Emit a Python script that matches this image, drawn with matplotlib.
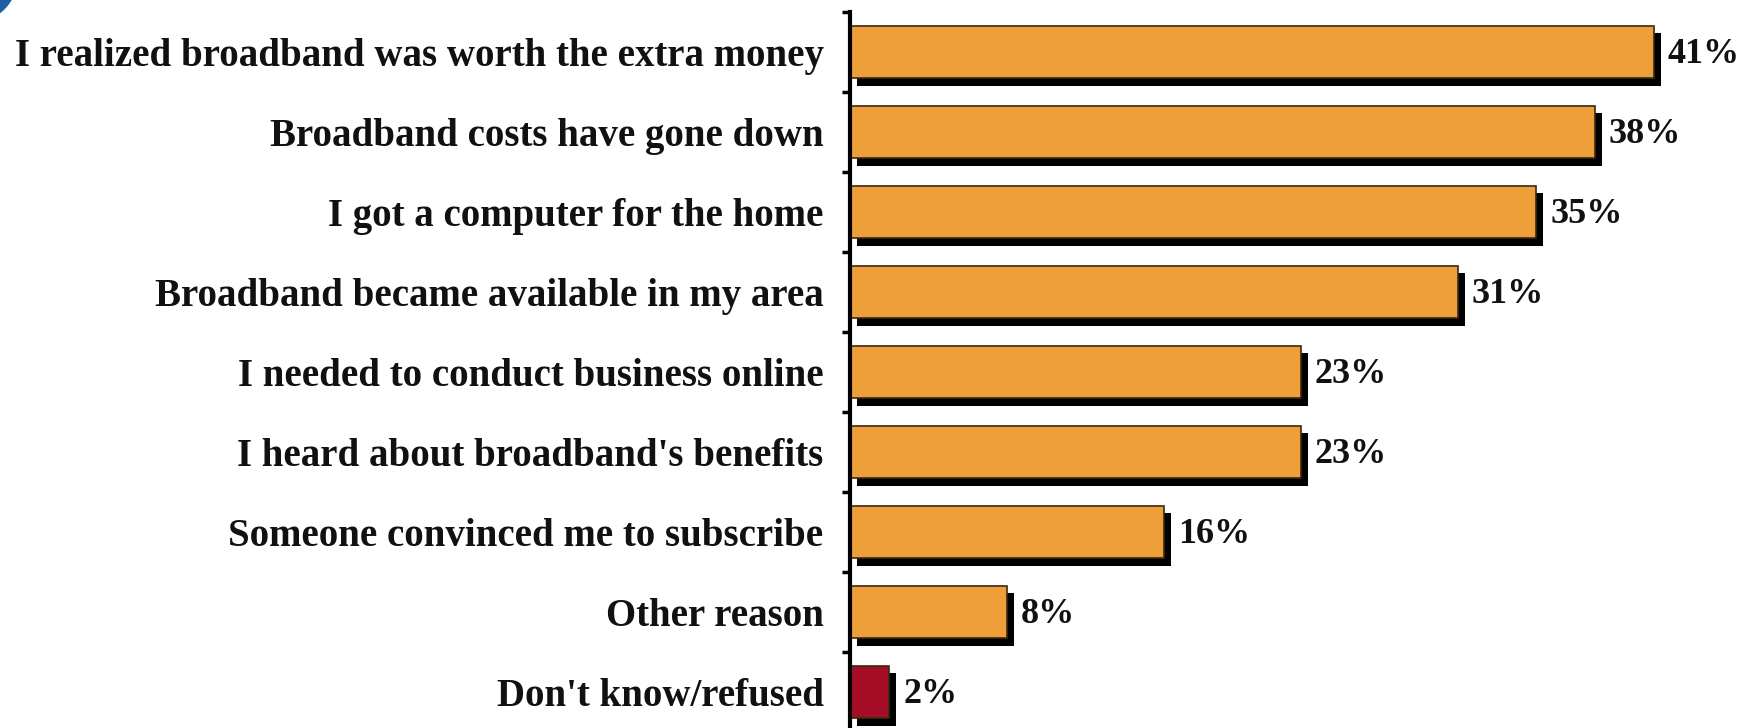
import matplotlib.pyplot as plt
from matplotlib.patches import Circle
import numpy as np

reasons = ["I realized broadband was worth the extra money",
           "Broadband costs have gone down",
           "I got a computer for the home",
           "Broadband became available in my area",
           "I needed to conduct business online",
           "I heard about broadband's benefits",
           "Someone convinced me to subscribe",
           "Other reason",
           "Don't know/refused"]
percent = [41, 38, 35, 31, 23, 23, 16, 8, 2]
colors = ["#EE9F3A"] * 8 + ["#A50D26"]

plt.rcParams['font.family'] = ['Liberation Serif', 'DejaVu Serif']

fig = plt.figure(figsize=(17.49, 7.28), dpi=100)
W, H = 1749, 728
ax = fig.add_axes([850 / W, -4 / H, (W - 850) / W, 720 / H])

y = np.arange(len(reasons))
# drop shadows first, then the bars on top
ax.barh(y + 0.09, percent, height=0.66, left=0.36, color="black", zorder=1)
ax.barh(y, percent, height=0.66, color=colors, edgecolor="#3a2a10",
        linewidth=1.2, zorder=2)

for yi, v in zip(y, percent):
    ax.text(v + 0.72, yi + 0.03, f"{v}%", ha="left", va="center",
            fontsize=26, fontweight="bold", color="#111111")

ax.set_xlim(0, (W - 850) / 19.6)
ax.set_ylim(len(reasons) - 0.5, -0.5)
ax.set_yticks(y)
ax.set_yticklabels(reasons, fontsize=28, fontweight="bold", color="#111111")
ax.tick_params(axis="y", which="major", length=0, pad=19)
ax.set_yticks(np.arange(len(reasons)) - 0.5, minor=True)
ax.tick_params(axis="y", which="minor", length=6, width=2.5, direction="out")
ax.set_xticks([])
for s in ["top", "right", "bottom"]:
    ax.spines[s].set_visible(False)
ax.spines["left"].set_linewidth(3)
ax.spines["left"].set_bounds(-0.5, len(reasons) - 0.5)

# corner ornament
fig.patches.append(Circle((-30, H + 25), 48, transform=None,
                          color="#1f5fa8", zorder=0))

fig.savefig("out.png", dpi=100)
